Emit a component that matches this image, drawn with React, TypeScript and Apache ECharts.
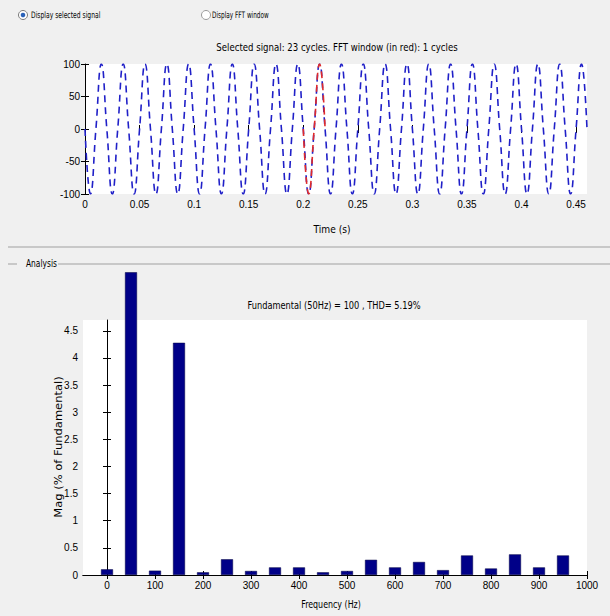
import React, { useEffect, useRef } from "react";
import * as echarts from "echarts";

// ---- Data ----
// Time signal (s, value) at quarter-cycle points, 50 Hz, amplitude 100
const signalPoints: [number, number][] = [
  [0, 0], [0.005, -100], [0.01, 0], [0.015, 100],
  [0.02, 0], [0.025, -100], [0.03, 0], [0.035, 100],
  [0.04, 0], [0.045, -100], [0.05, 0], [0.055, 100],
  [0.06, 0], [0.065, -100], [0.07, 0], [0.075, 100],
  [0.08, 0], [0.085, -100], [0.09, 0], [0.095, 100],
  [0.1, 0], [0.105, -100], [0.11, 0], [0.115, 100],
  [0.12, 0], [0.125, -100], [0.13, 0], [0.135, 100],
  [0.14, 0], [0.145, -100], [0.15, 0], [0.155, 100],
  [0.16, 0], [0.165, -100], [0.17, 0], [0.175, 100],
  [0.18, 0], [0.185, -100], [0.19, 0], [0.195, 100],
  [0.2, 0], [0.205, -100], [0.21, 0], [0.215, 100],
  [0.22, 0], [0.225, -100], [0.23, 0], [0.235, 100],
  [0.24, 0], [0.245, -100], [0.25, 0], [0.255, 100],
  [0.26, 0], [0.265, -100], [0.27, 0], [0.275, 100],
  [0.28, 0], [0.285, -100], [0.29, 0], [0.295, 100],
  [0.3, 0], [0.305, -100], [0.31, 0], [0.315, 100],
  [0.32, 0], [0.325, -100], [0.33, 0], [0.335, 100],
  [0.34, 0], [0.345, -100], [0.35, 0], [0.355, 100],
  [0.36, 0], [0.365, -100], [0.37, 0], [0.375, 100],
  [0.38, 0], [0.385, -100], [0.39, 0], [0.395, 100],
  [0.4, 0], [0.405, -100], [0.41, 0], [0.415, 100],
  [0.42, 0], [0.425, -100], [0.43, 0], [0.435, 100],
  [0.44, 0], [0.445, -100], [0.45, 0], [0.455, 100],
  [0.46, 0],
];
// FFT window (red), one cycle
const fftWindowPoints: [number, number][] = [
  [0.2, 0], [0.205, -100], [0.21, 0], [0.215, 100], [0.22, 0],
];
const timeTicks = [0, 0.05, 0.1, 0.15, 0.2, 0.25, 0.3, 0.35, 0.4, 0.45];
const signalTicks = [-100, -50, 0, 50, 100];

// Spectrum
const freqHz = [0, 50, 100, 150, 200, 250, 300, 350, 400, 450, 500, 550, 600, 650, 700, 750, 800, 850, 900, 950];
// the 50 Hz bar is shown at its drawn (clipped) height
const magPct = [0.105, 5.58, 0.08, 4.28, 0.05, 0.29, 0.074, 0.14, 0.14, 0.05, 0.074, 0.28, 0.14, 0.24, 0.09, 0.36, 0.12, 0.38, 0.14, 0.36];
const freqTicks = [0, 100, 200, 300, 400, 500, 600, 700, 800, 900, 1000];
const magTicks = [0, 0.5, 1, 1.5, 2, 2.5, 3, 3.5, 4, 4.5];

const FONT = '"DejaVu Sans", sans-serif';
const LFONT = '"Liberation Sans", Arial, sans-serif';

export default function App() {
  const ref = useRef<HTMLDivElement>(null);
  useEffect(() => {
    if (!ref.current) return;
    const chart = echarts.init(ref.current, null, { renderer: "svg" });
    const tick = (vals: number[]) => ({
      show: true,
      inside: true,
      length: 4,
      customValues: vals,
      lineStyle: { color: "#000", width: 1 },
    });
    const label = (vals: number[]) => ({
      show: true,
      customValues: vals,
      color: "#000",
      fontSize: 10,
      fontFamily: LFONT,
      margin: 5,
      formatter: (v: number) => String(v),
    });
    const text = (x: number, y: number, t: string, sx: number, extra: any = {}) => ({
      type: "text",
      x,
      y,
      scaleX: sx,
      silent: true,
      style: {
        text: t,
        fill: "#000",
        font: `11px ${FONT}`,
        align: "center",
        verticalAlign: "middle",
        ...extra,
      },
    });
    chart.setOption({
      animation: false,
      backgroundColor: "#f0f0f0",
      grid: [
        { left: 85, top: 64, width: 502, height: 130, backgroundColor: "#fff", show: true, borderWidth: 0 },
        { left: 83, top: 320, width: 504, height: 255, backgroundColor: "#fff", show: true, borderWidth: 0 },
      ],
      xAxis: [
        {
          gridIndex: 0, type: "value", min: 0, max: 0.46, position: "bottom",
          axisLine: { show: false }, splitLine: { show: false },
          axisTick: tick(timeTicks), axisLabel: label(timeTicks),
        },
        {
          gridIndex: 0, type: "value", min: 0, max: 0.46, position: "top",
          axisLine: { show: false }, splitLine: { show: false },
          axisTick: tick(timeTicks), axisLabel: { show: false },
        },
        {
          gridIndex: 1, type: "value", min: -50, max: 1000, position: "bottom",
          axisLine: { show: true, lineStyle: { color: "#000", width: 1 } }, splitLine: { show: false },
          axisTick: tick(freqTicks), axisLabel: label(freqTicks),
        },
        {
          gridIndex: 1, type: "value", min: -50, max: 1000, position: "top",
          axisLine: { show: true, lineStyle: { color: "#000", width: 1 } }, splitLine: { show: false },
          axisTick: tick(freqTicks), axisLabel: { show: false },
        },
      ],
      yAxis: [
        {
          gridIndex: 0, type: "value", min: -100, max: 100, position: "left",
          axisLine: { show: true, lineStyle: { color: "#000", width: 1 } }, splitLine: { show: false },
          axisTick: tick(signalTicks), axisLabel: label(signalTicks),
        },
        {
          gridIndex: 0, type: "value", min: -100, max: 100, position: "right",
          axisLine: { show: false }, splitLine: { show: false },
          axisTick: tick(signalTicks), axisLabel: { show: false },
        },
        {
          gridIndex: 1, type: "value", min: 0, max: 4.7, position: "left",
          axisLine: { show: true, lineStyle: { color: "#000", width: 1 } }, splitLine: { show: false },
          axisTick: tick(magTicks), axisLabel: label(magTicks),
        },
        {
          gridIndex: 1, type: "value", min: 0, max: 4.7, position: "right",
          axisLine: { show: false }, splitLine: { show: false },
          axisTick: tick(magTicks), axisLabel: { show: false },
        },
      ],
      series: [
        {
          type: "line", xAxisIndex: 0, yAxisIndex: 0, data: signalPoints,
          smooth: 0.5, symbol: "none",
          lineStyle: { color: "#2020c8", width: 1.6, type: [7, 5] },
        },
        {
          type: "line", xAxisIndex: 0, yAxisIndex: 0, data: fftWindowPoints,
          smooth: 0.5, symbol: "none",
          lineStyle: { color: "#e02a2a", width: 1.6, type: [7, 5] },
        },
        {
          type: "bar", xAxisIndex: 2, yAxisIndex: 2,
          data: freqHz.map((f, i) => [f, magPct[i]]),
          barWidth: 12, clip: false,
          itemStyle: { color: "#000088", borderColor: "#000040", borderWidth: 0.5 },
        },
      ],
      graphic: [
        // radio buttons
        { type: "circle", shape: { cx: 23, cy: 15, r: 4.5 }, style: { fill: "#fff", stroke: "#7a7a7a", lineWidth: 1 } },
        { type: "circle", shape: { cx: 23, cy: 15, r: 2.3 }, style: { fill: "#2a62b8" } },
        text(31, 15, "Display selected signal", 0.67, { align: "left", font: `9px ${FONT}` }),
        { type: "circle", shape: { cx: 206, cy: 15, r: 4.5 }, style: { fill: "#fff", stroke: "#9a9a9a", lineWidth: 1 } },
        text(212, 15, "Display FFT window", 0.64, { align: "left", font: `9px ${FONT}` }),
        // top title
        text(337, 47, "Selected signal: 23 cycles. FFT window (in red): 1 cycles", 0.78),
        text(332, 229, "Time (s)", 0.83),
        // separators
        { type: "line", shape: { x1: 8, y1: 247, x2: 610, y2: 247 }, style: { stroke: "#a0a0a0", lineWidth: 1 } },
        { type: "line", shape: { x1: 8, y1: 264, x2: 17, y2: 264 }, style: { stroke: "#a0a0a0", lineWidth: 1 } },
        { type: "line", shape: { x1: 58, y1: 264, x2: 610, y2: 264 }, style: { stroke: "#a0a0a0", lineWidth: 1 } },
        text(26, 264, "Analysis", 0.75, { align: "left", font: `10px ${FONT}` }),
        // spectrum title and labels
        text(334, 305, "Fundamental (50Hz) = 100 , THD= 5.19%", 0.75),
        text(331, 604, "Frequency (Hz)", 0.72),
        { ...text(59, 447, "Mag (% of Fundamental)", 1.15, { font: `10px ${FONT}` }), rotation: Math.PI / 2 },
      ],
    });
    return () => chart.dispose();
  }, []);
  return <div ref={ref} style={{ width: 610, height: 616, position: "absolute", left: 0, top: 0 }} />;
}
